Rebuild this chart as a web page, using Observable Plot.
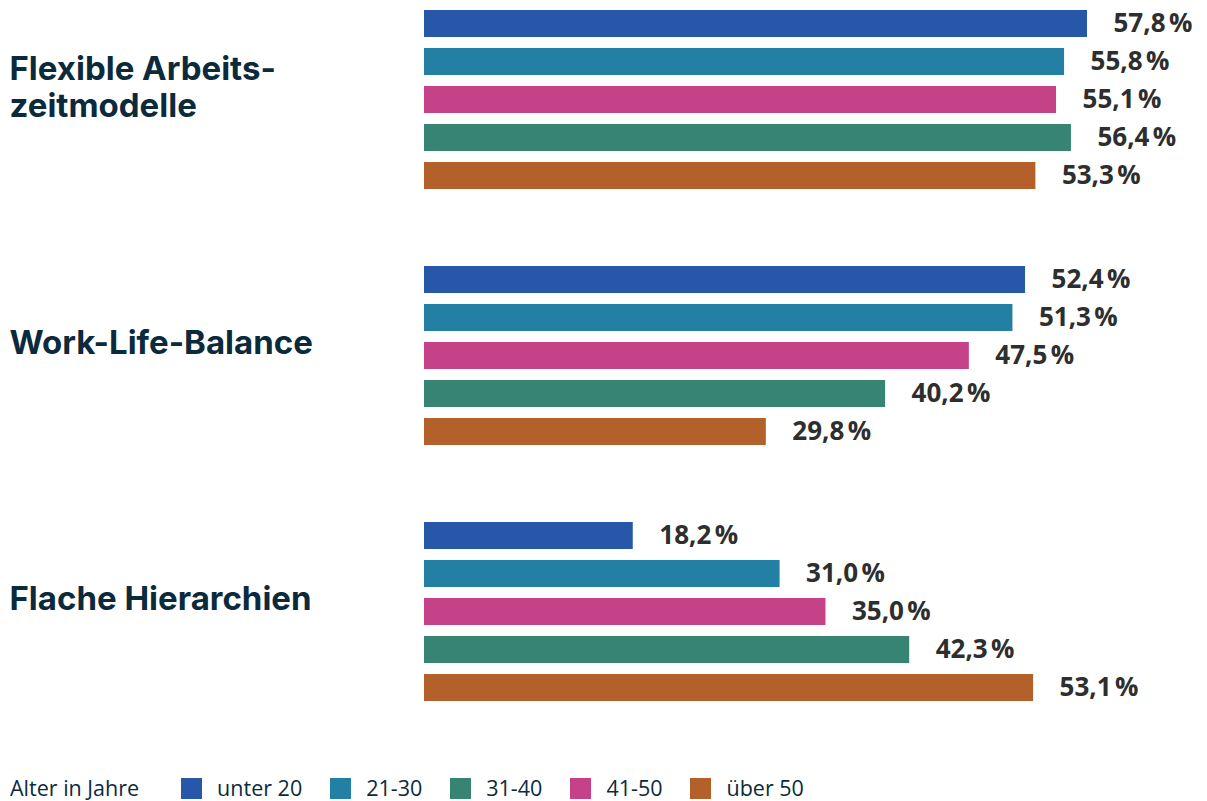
<!DOCTYPE html>
<html>
<head>
<meta charset="utf-8">
<script src="https://cdn.jsdelivr.net/npm/d3@7"></script>
<script src="https://cdn.jsdelivr.net/npm/@observablehq/plot@0.6"></script>
<style>
  html, body { margin: 0; padding: 0; background: #fff; }
  #chart svg { display: block; }
  #legend { display: flex; align-items: center; height: 24px; line-height: 24px; margin-top: 24px; padding-left: 10px;
    font-family: "Open Sans", sans-serif; font-size: 21.5px; color: #0b2a3c; }
  #legend .lab { margin-right: 42px; }
  #legend .sw { width: 21px; height: 21px; margin-right: 15px; }
  #legend .it { display: flex; align-items: center; margin-right: 28px; }
</style>
</head>
<body>
<div id="chart"></div>
<div id="legend"></div>
<script>
const categories = ["Flexible Arbeits-\nzeitmodelle", "Work-Life-Balance", "Flache Hierarchien"];
const ageGroups = ["unter 20", "21-30", "31-40", "41-50", "über 50"];
const barOrder = ["unter 20", "21-30", "41-50", "31-40", "über 50"];
const ageColors = ["#2757a9", "#2380a4", "#368471", "#c64288", "#b4602b"];
const flexible = [57.8, 55.8, 56.4, 55.1, 53.3];
const workLife = [52.4, 51.3, 40.2, 47.5, 29.8];
const hierarchien = [18.2, 31.0, 42.3, 35.0, 53.1];
const legendTitle = "Alter in Jahre";

const series = [flexible, workLife, hierarchien];
const rows = [];
categories.forEach((c, i) => ageGroups.forEach((a, j) => rows.push({category: c, age: a, value: series[i][j]})));

const fmt = v => d3.format(".1f")(v).replace(".", ",") + "\u202F%";

const chart = Plot.plot({
  width: 1207,
  height: 752,
  marginLeft: 424,
  marginRight: 120,
  marginTop: 9,
  marginBottom: 51,
  x: {domain: [0, 57.8], axis: null},
  y: {domain: barOrder, axis: null, paddingInner: 0.294, paddingOuter: 0},
  fy: {domain: categories, axis: null, paddingInner: 0.297, paddingOuter: 0},
  color: {domain: ageGroups, range: ageColors},
  style: {fontFamily: "Inter, sans-serif"},
  marks: [
    Plot.barX(rows, {x: "value", y: "age", fy: "category", fill: "age"}),
    Plot.text(rows, {x: "value", y: "age", fy: "category", text: d => fmt(d.value),
      textAnchor: "start", dx: 26, fontSize: 26, fontWeight: 700, fill: "#2e2e2e",
      fontFamily: "'Open Sans', sans-serif", letterSpacing: -0.6}),
    Plot.text(categories, {fy: d => d, text: d => d, frameAnchor: "left", textAnchor: "start",
      dx: -415, dy: -13, fontSize: 33, fontWeight: 700, fill: "#0b2a3c", lineHeight: 1.13,
      fontFamily: "Inter, sans-serif"})
  ]
});
document.getElementById("chart").appendChild(chart);

const color = chart.scale("color");
const lg = document.getElementById("legend");
const t = document.createElement("span");
t.className = "lab"; t.textContent = legendTitle; lg.appendChild(t);
color.domain.forEach((a, i) => {
  const it = document.createElement("span"); it.className = "it";
  const sw = document.createElement("span"); sw.className = "sw"; sw.style.background = color.range[i];
  const tx = document.createElement("span"); tx.textContent = a;
  it.appendChild(sw); it.appendChild(tx); lg.appendChild(it);
});
</script>
</body>
</html>
